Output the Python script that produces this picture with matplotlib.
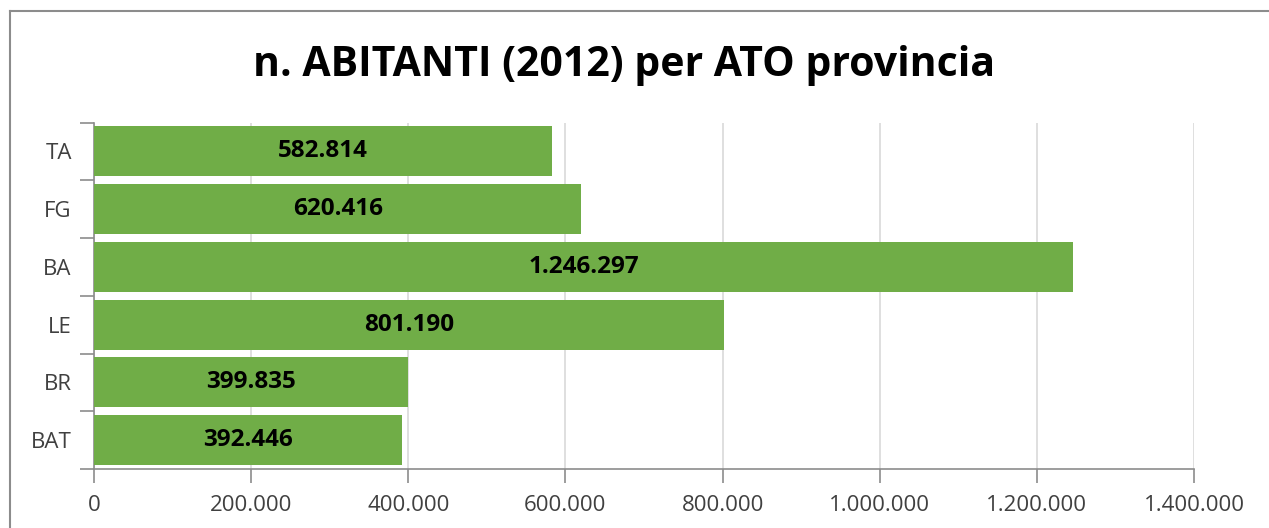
import matplotlib.pyplot as plt
import numpy as np
from matplotlib.lines import Line2D
from matplotlib.ticker import FuncFormatter, FixedLocator

plt.rcParams['font.family'] = ['Open Sans', 'DejaVu Sans']

# abitanti per ATO provincia, dall'alto verso il basso
province = ['TA', 'FG', 'BA', 'LE', 'BR', 'BAT']
abitanti = [582814, 620416, 1246297, 801190, 399835, 392446]

verde = '#70AD47'
grigio_asse = '#8C8C8C'
grigio_griglia = '#D9D9D9'
testo = '#404040'


def punti(v):
    return f'{int(round(v)):,}'.replace(',', '.')


fig = plt.figure(figsize=(12.69, 5.28), dpi=100)
ax = fig.add_axes([94 / 1269, 1 - 469 / 528, 1100 / 1269, (469 - 122.5) / 528])

y_pos = np.arange(len(province))
bars = ax.barh(y_pos, abitanti, height=0.87, color=verde, zorder=3)

for b, v in zip(bars, abitanti):
    ax.text(b.get_x() + b.get_width() / 2, b.get_y() + b.get_height() / 2, punti(v),
            ha='center', va='center', fontsize=17.5, fontweight='bold', color='black', zorder=4)

ax.set_xlim(0, 1400000)
ax.set_ylim(len(province) - 0.5, -0.5)
ax.set_xticks(np.arange(0, 1400001, 200000))
ax.xaxis.set_major_formatter(FuncFormatter(lambda v, p: punti(v)))
ax.set_yticks(y_pos)
ax.set_yticklabels(province)
ax.yaxis.set_minor_locator(FixedLocator(np.arange(-0.5, len(province), 1)))

ax.grid(axis='x', color=grigio_griglia, linewidth=1.2, zorder=0)
for s in ['top', 'right']:
    ax.spines[s].set_visible(False)
for s in ['left', 'bottom']:
    ax.spines[s].set_color(grigio_asse)
    ax.spines[s].set_linewidth(1.2)

ax.tick_params(axis='x', direction='out', length=10, width=1.2, color=grigio_asse,
               labelsize=16, labelcolor=testo, pad=9)
ax.tick_params(axis='y', which='major', length=0, labelsize=16, labelcolor=testo, pad=16)
ax.tick_params(axis='y', which='minor', direction='out', length=10, width=1.2, color=grigio_asse)

fig.text(624 / 1269, 1 - 65 / 528, 'n. ABITANTI (2012) per ATO provincia',
         ha='center', va='center', fontsize=29.5, fontweight='bold', color='black')

# bordo esterno del grafico
fig.add_artist(Line2D([10 / 1269, 10 / 1269], [0, 1 - 10.5 / 528], transform=fig.transFigure,
                      color=grigio_asse, linewidth=1.5))
fig.add_artist(Line2D([10 / 1269, 1], [1 - 10.5 / 528, 1 - 10.5 / 528], transform=fig.transFigure,
                      color=grigio_asse, linewidth=1.5))

fig.savefig('out.png', dpi=100, facecolor='white')
